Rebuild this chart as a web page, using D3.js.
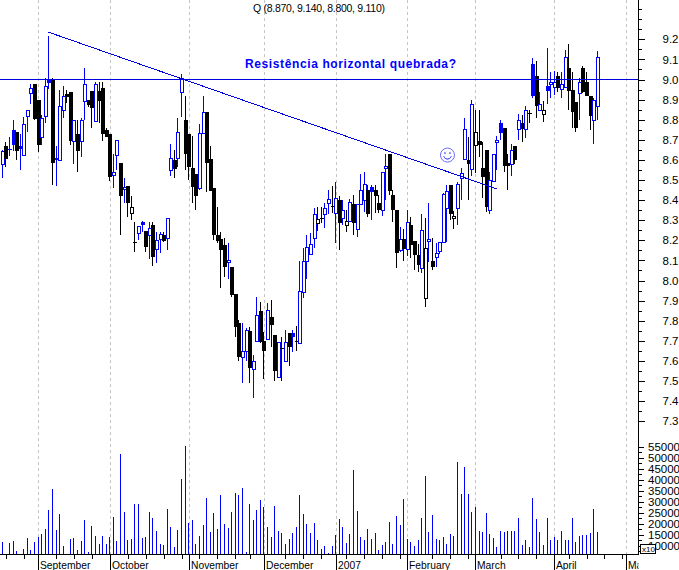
<!DOCTYPE html>
<html><head><meta charset="utf-8">
<script src="https://cdn.jsdelivr.net/npm/d3@7"></script>
<style>html,body{margin:0;padding:0;background:#fff}svg{display:block}text{font-family:"Liberation Sans",Arial,sans-serif;fill:#000}</style>
</head><body><div id="chart"></div>
<script>
const open=[8.578,8.669,8.653,8.749,8.739,8.669,8.626,8.818,8.931,8.976,
8.898,8.716,8.820,8.998,9.001,8.608,8.598,8.847,8.928,8.936,
8.696,8.729,8.696,8.895,8.898,8.943,8.795,8.943,8.956,8.749,
8.729,8.527,8.626,8.583,8.457,8.470,8.337,8.192,8.238,8.291,
8.245,8.228,8.276,8.158,8.208,8.225,8.210,8.550,8.600,8.608,
8.936,8.799,8.727,8.558,8.530,8.459,8.732,8.837,8.603,8.459,
8.225,8.205,8.177,8.090,8.066,7.933,7.787,7.621,7.651,7.747,
7.560,7.697,7.847,7.699,7.711,7.817,7.727,7.518,7.662,7.601,
7.737,7.737,7.697,7.691,7.941,8.099,8.130,8.210,8.288,8.309,
8.331,8.387,8.369,8.337,8.400,8.311,8.276,8.298,8.381,8.258,
8.381,8.400,8.450,8.467,8.450,8.386,8.349,8.570,8.630,8.425,
8.351,8.150,8.205,8.158,8.275,8.198,8.128,8.061,7.911,8.202,
8.095,8.119,8.149,8.190,8.359,8.474,8.309,8.359,8.508,8.606,
8.600,8.556,8.676,8.692,8.560,8.649,8.349,8.497,8.699,8.782,
8.757,8.583,8.578,8.669,8.752,8.782,8.752,8.835,9.077,9.017,
8.847,8.827,8.968,8.986,8.964,9.017,8.953,8.964,9.056,8.946,
8.886,8.931,9.056,8.986,8.918,8.797,8.870];
const high=[8.649,8.689,8.716,8.799,8.739,8.729,8.815,8.847,8.976,8.976,
8.898,8.823,9.006,9.216,9.006,8.669,8.948,8.968,8.948,8.936,
8.799,8.799,8.807,9.056,8.898,8.943,8.989,8.989,8.989,8.757,
8.729,8.629,8.697,8.583,8.508,8.470,8.422,8.291,8.271,8.296,
8.245,8.293,8.293,8.243,8.240,8.243,8.309,8.679,8.649,8.807,
9.027,8.918,8.727,8.719,8.530,8.779,8.918,8.837,8.669,8.459,
8.367,8.240,8.210,8.185,8.066,7.933,7.804,7.790,7.762,7.770,
7.629,7.916,7.895,7.745,7.886,7.903,7.727,7.696,7.721,7.754,
7.737,7.754,7.774,8.099,8.160,8.226,8.235,8.359,8.364,8.364,
8.384,8.450,8.470,8.492,8.420,8.400,8.351,8.404,8.425,8.381,
8.528,8.538,8.475,8.475,8.475,8.425,8.541,8.630,8.630,8.450,
8.351,8.268,8.255,8.351,8.314,8.198,8.182,8.331,8.309,8.384,
8.210,8.188,8.190,8.434,8.475,8.475,8.348,8.492,8.558,8.807,
8.716,8.898,8.848,8.848,8.691,8.649,8.541,8.628,8.719,8.799,
8.757,8.629,8.677,8.669,8.827,8.823,8.868,8.848,9.105,9.094,
8.936,8.895,9.155,9.039,9.042,9.039,9.039,9.147,9.177,9.039,
8.886,9.006,9.067,9.039,8.918,8.906,9.140];
const low=[8.512,8.566,8.619,8.646,8.600,8.550,8.623,8.740,8.878,8.800,
8.639,8.674,8.782,8.951,8.477,8.472,8.598,8.807,8.881,8.674,
8.580,8.540,8.613,8.799,8.865,8.759,8.789,8.782,8.696,8.716,
8.493,8.459,8.550,8.226,8.387,8.318,8.301,8.142,8.201,8.243,
8.143,8.109,8.072,8.085,8.135,8.193,8.152,8.520,8.512,8.566,
8.812,8.550,8.500,8.384,8.351,8.450,8.732,8.442,8.447,8.201,
8.188,7.961,8.019,8.009,7.919,7.721,7.601,7.488,7.601,7.492,
7.414,7.695,7.687,7.508,7.704,7.671,7.502,7.513,7.502,7.601,
7.575,7.646,7.651,7.691,7.913,8.007,8.130,8.163,8.248,8.288,
8.263,8.329,8.334,8.185,8.152,8.276,8.243,8.298,8.226,8.218,
8.381,8.342,8.314,8.301,8.334,8.334,8.321,8.400,8.425,8.293,
8.064,8.144,8.099,8.122,8.110,8.052,8.044,8.039,7.870,8.094,
8.052,8.066,8.132,8.185,8.193,8.301,8.255,8.276,8.400,8.606,
8.400,8.520,8.533,8.616,8.409,8.342,8.333,8.492,8.550,8.699,
8.541,8.450,8.522,8.578,8.699,8.691,8.711,8.785,8.910,8.810,
8.845,8.790,8.878,8.910,8.923,8.936,8.906,8.964,8.848,8.760,
8.740,8.799,8.931,8.920,8.749,8.679,8.800];
const close=[8.644,8.603,8.648,8.676,8.646,8.656,8.777,8.847,8.956,8.805,
8.676,8.808,8.968,8.981,8.586,8.600,8.867,8.916,8.911,8.696,
8.799,8.646,8.799,8.976,8.875,8.857,8.976,8.895,8.729,8.716,
8.517,8.540,8.697,8.422,8.467,8.387,8.367,8.190,8.271,8.278,
8.168,8.260,8.119,8.201,8.230,8.198,8.309,8.608,8.553,8.737,
9.006,8.628,8.566,8.467,8.420,8.732,8.840,8.586,8.447,8.228,
8.195,8.152,8.066,8.100,7.930,7.770,7.621,7.651,7.754,7.563,
7.600,7.830,7.692,7.651,7.851,7.780,7.551,7.692,7.660,7.692,
7.671,7.721,7.695,7.950,8.099,8.168,8.180,8.329,8.308,8.306,
8.359,8.407,8.367,8.409,8.288,8.349,8.298,8.389,8.288,8.381,
8.450,8.478,8.331,8.442,8.422,8.351,8.538,8.572,8.447,8.351,
8.139,8.208,8.155,8.289,8.178,8.128,8.079,8.250,8.160,8.204,
8.069,8.139,8.190,8.430,8.447,8.331,8.319,8.478,8.536,8.754,
8.580,8.876,8.737,8.676,8.515,8.367,8.498,8.628,8.701,8.735,
8.570,8.568,8.648,8.601,8.797,8.752,8.847,8.833,8.920,8.870,
8.876,8.847,8.944,8.988,8.989,8.958,8.976,9.110,8.944,8.840,
8.760,8.986,8.939,8.920,8.820,8.896,9.110];
const volume=[11800,null,11400,12300,7700,null,8600,13600,8200,11800,
14100,15400,17700,26300,35800,17200,24500,10000,null,13200,
13600,8200,12300,21800,7300,19100,14500,10900,14500,10900,
13800,23100,12300,51700,25400,12700,13200,29000,29000,13600,
14100,25400,22700,16800,10900,10500,26800,18600,9500,17200,
40400,55300,20400,21800,10900,14500,19500,31700,16300,24900,
17700,33100,20000,18200,25400,34000,33100,36300,7300,29000,
21800,26300,30800,27700,18600,14100,28100,16800,15900,10900,
13200,15900,18600,33100,24500,20000,15900,20400,12700,8600,
10000,6800,10000,15000,22200,18600,11400,15400,44400,25900,
14100,12700,17700,13200,15900,8200,10500,11800,20900,10900,
23600,19500,31300,13200,11800,10000,12700,22700,41700,16300,
24000,13200,12700,14100,10900,15400,14500,48100,33600,45800,
33600,25400,27700,16800,16300,24900,15400,13600,9500,16800,
16300,16800,16800,16800,22700,10500,12700,9500,31700,22200,
16300,10500,22700,12700,14100,12700,16800,12700,12700,22700,
11800,14500,15000,15000,15900,26800,16300];
const monthLabels=["September","October","November","December","2007","February","March","April","May"];
const monthIndex=[10,30,52,73,93,113,132,154,174];
const weekIndex=[1,6,15,20,25,30,35,40,45,50,55,60,65,69,79,84,89,96,101,106,111,120,125,130,139,144,149,158,163,168,173];
const priceLabels=[7.3,7.4,7.5,7.6,7.7,7.8,7.9,8.0,8.1,8.2,8.3,8.4,8.5,8.6,8.7,8.8,8.9,9.0,9.1,9.2];
const priceMinor=[7.35,7.45,7.55,7.65,7.75,7.85,7.95,8.05,8.15,8.25,8.35,8.45,8.55,8.65,8.75,8.85,8.95,9.05,9.15,9.25,9.3,9.35,9.4];
const volumeLabels=[10000,15000,20000,25000,30000,35000,40000,45000,50000,55000];
const volumeMinor=[7500,12500,17500,22500,27500,32500,37500,42500,47500,52500];
const resistance=9.0;
const trendIndex=[12.8,137.9];
const trendPrice=[9.236,8.456];
const smileyAt=[124.2,8.624];
const quoteText="Q (8.870, 9.140, 8.800, 9.110)";
const titleText="Resistência horizontal quebrada?";

const W=679,H=570,axisX=638.5,baseY=554.5;
const x=d3.scaleLinear().domain([0,166]).range([2.3,597.3]);
const y=d3.scaleLinear().domain([7.3,9.4]).range([421.2,-0.9]);
const v=d3.scaleLinear().domain([6220,55000]).range([554,446.7]);
const BLUE="#0000ff",LINE="#0000e0";

const svg=d3.select("#chart").append("svg").attr("width",W).attr("height",H).attr("viewBox",`0 0 ${W} ${H}`);
svg.append("defs").append("clipPath").attr("id","plot").append("rect").attr("x",0).attr("y",0).attr("width",axisX).attr("height",H);
const plot=svg.append("g").attr("clip-path","url(#plot)");
const px=i=>Math.floor(x(i));
const gx=i=>Math.round(x(i));

// grid
plot.append("g").selectAll("line").data(monthIndex).join("line")
 .attr("x1",d=>gx(d)+.5).attr("x2",d=>gx(d)+.5).attr("y1",0).attr("y2",baseY)
 .attr("stroke","#c4c4c4").attr("stroke-dasharray","3,3").attr("stroke-width",1).attr("shape-rendering","crispEdges");

// volume
plot.append("g").selectAll("rect").data(volume.map((d,i)=>({d,i})).filter(e=>e.d!==null)).join("rect")
 .attr("x",e=>px(e.i)).attr("width",1).attr("y",e=>Math.round(v(e.d))).attr("height",e=>baseY-.5-Math.round(v(e.d)))
 .attr("fill",BLUE).attr("shape-rendering","crispEdges");

// candles
const candles=open.map((o,i)=>{
 const c=close[i],up=i===0||c>=close[i-1];
 return {i,o,c,h:high[i],l:low[i],color:up?BLUE:"#000",hollow:c>o};
});
const g=plot.append("g").attr("shape-rendering","crispEdges");
const cs=g.selectAll("g").data(candles).join("g");
cs.append("rect").attr("x",d=>px(d.i)).attr("width",1)
 .attr("y",d=>Math.round(y(d.h))).attr("height",d=>Math.max(1,Math.round(y(d.l))-Math.round(y(d.h))))
 .attr("fill",d=>d.color);
cs.append("rect").attr("x",d=>d.hollow?px(d.i)-.5:px(d.i)-1).attr("width",d=>d.hollow?3:4)
 .attr("y",d=>Math.round(y(Math.max(d.o,d.c)))+(d.hollow?.5:0))
 .attr("height",d=>Math.max(d.hollow?2:1,Math.round(y(Math.min(d.o,d.c)))-Math.round(y(Math.max(d.o,d.c)))))
 .attr("fill",d=>d.hollow?"#fff":d.color).attr("stroke",d=>d.hollow?d.color:"none").attr("stroke-width",1);

// lines
plot.append("line").attr("x1",0).attr("x2",axisX).attr("y1",Math.floor(y(resistance))+.5).attr("y2",Math.floor(y(resistance))+.5)
 .attr("stroke",LINE).attr("stroke-width",1).attr("shape-rendering","crispEdges");
plot.append("line").attr("x1",x(trendIndex[0])).attr("y1",y(trendPrice[0])).attr("x2",x(trendIndex[1])).attr("y2",y(trendPrice[1]))
 .attr("stroke",LINE).attr("stroke-width",1).attr("shape-rendering","crispEdges");

// smiley
const sm=plot.append("g").attr("transform",`translate(${x(smileyAt[0])},${y(smileyAt[1])})`).attr("fill","none").attr("stroke","#5a5aff").attr("stroke-width",.9);
sm.append("circle").attr("r",7);
sm.append("circle").attr("cx",-2.5).attr("cy",-2).attr("r",.6);
sm.append("circle").attr("cx",2.5).attr("cy",-2).attr("r",.6);
sm.append("path").attr("d",d3.arc()({innerRadius:4,outerRadius:4,startAngle:Math.PI*.6,endAngle:Math.PI*1.4}));

// bottom axis
const bottom=plot.append("g").attr("shape-rendering","crispEdges");
bottom.append("line").attr("x1",0).attr("x2",axisX).attr("y1",baseY).attr("y2",baseY).attr("stroke","#000");
bottom.append("g").selectAll("line").data(weekIndex).join("line")
 .attr("x1",d=>gx(d)+.5).attr("x2",d=>gx(d)+.5).attr("y1",baseY).attr("y2",baseY+4).attr("stroke","#000");
bottom.append("g").selectAll("line").data(monthIndex).join("line")
 .attr("x1",d=>gx(d)+.5).attr("x2",d=>gx(d)+.5).attr("y1",baseY).attr("y2",H).attr("stroke","#000");
plot.append("g").selectAll("text").data(monthLabels).join("text")
 .attr("x",(d,i)=>gx(monthIndex[i])+2).attr("y",568.5).attr("font-size",10.3).text(d=>d);

// right axes
svg.append("line").attr("x1",axisX).attr("x2",axisX).attr("y1",0).attr("y2",baseY).attr("stroke","#000").attr("shape-rendering","crispEdges");
function styleAxis(sel){sel.select(".domain").remove();sel.selectAll("line").attr("shape-rendering","crispEdges");sel.selectAll("text").attr("font-size",11.5).attr("font-family",'"Liberation Sans",Arial,sans-serif');}
svg.append("g").attr("transform",`translate(${axisX},0)`).call(d3.axisRight(y).tickValues(priceMinor).tickSize(3).tickFormat("")).call(styleAxis);
svg.append("g").attr("transform",`translate(${axisX},0)`).call(d3.axisRight(y).tickValues(priceLabels).tickSize(6).tickPadding(18).tickFormat(d3.format(".1f"))).call(styleAxis);
svg.append("g").attr("transform",`translate(${axisX},0)`).call(d3.axisRight(v).tickValues(volumeMinor).tickSize(3).tickFormat("")).call(styleAxis);
svg.append("g").attr("transform",`translate(${axisX},0)`).call(d3.axisRight(v).tickValues(volumeLabels).tickSize(5).tickPadding(4.5).tickFormat(d3.format("d"))).call(styleAxis);

svg.append("rect").attr("x",640.5).attr("y",544.5).attr("width",15).attr("height",9).attr("fill","#fff").attr("stroke","#000").attr("shape-rendering","crispEdges");
svg.append("text").attr("x",642).attr("y",552).attr("font-size",8).text("x10");

// header text
svg.append("text").attr("x",253).attr("y",12).attr("font-size",10.5).attr("textLength",132).attr("lengthAdjust","spacing").text(quoteText);
svg.append("text").attr("x",245).attr("y",67.5).attr("font-size",12).attr("font-weight","bold").style("fill",BLUE).attr("textLength",211).attr("lengthAdjust","spacing").text(titleText);
</script></body></html>
